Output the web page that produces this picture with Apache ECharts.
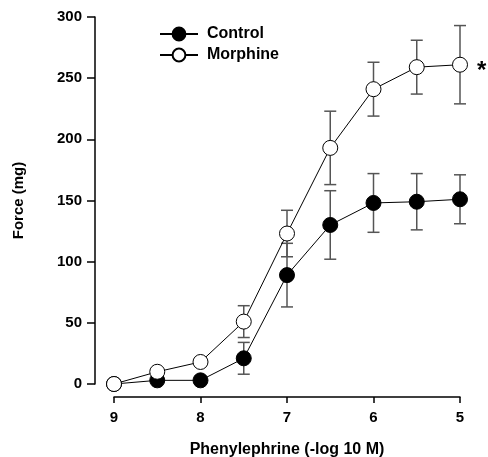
<!DOCTYPE html>
<html>
<head>
<meta charset="utf-8">
<script src="https://cdn.jsdelivr.net/npm/echarts@6/dist/echarts.min.js"></script>
<style>
html,body{margin:0;padding:0;background:#fff;}
#chart{width:488px;height:457px;}
</style>
</head>
<body>
<div id="chart"></div>
<script>
var doses = [9, 8.5, 8, 7.5, 7, 6.5, 6, 5.5, 5];
var controlMean = [0, 3, 3, 21, 89, 130, 148, 149, 151];
var controlErr  = [0, 0, 0, 13, 26, 28, 24, 23, 20];
var morphineMean = [0, 10, 18, 51, 123, 193, 241, 259, 261];
var morphineErr  = [0, 0, 0, 13, 19, 30, 22, 22, 32];
var xTicks = [9, 8, 7, 6, 5];
var yTicks = [0, 50, 100, 150, 200, 250, 300];

function pairs(m){ return doses.map(function(d,i){ return [d, m[i]]; }); }
function errData(m,e){ return doses.map(function(d,i){ return [d, m[i]-e[i], m[i]+e[i]]; }).filter(function(r){return r[2]>r[1];}); }

function errRender(params, api){
  var x = api.value(0), lo = api.value(1), hi = api.value(2);
  var pLo = api.coord([x, lo]), pHi = api.coord([x, hi]);
  var w = 6;
  var st = {stroke:'#555', lineWidth:1.5};
  return {type:'group', children:[
    {type:'line', shape:{x1:pLo[0], y1:pLo[1], x2:pHi[0], y2:pHi[1]}, style:st},
    {type:'line', shape:{x1:pLo[0]-w, y1:pLo[1], x2:pLo[0]+w, y2:pLo[1]}, style:st},
    {type:'line', shape:{x1:pHi[0]-w, y1:pHi[1], x2:pHi[0]+w, y2:pHi[1]}, style:st}
  ]};
}

var chart = echarts.init(document.getElementById('chart'), null, {renderer:'canvas'});
var font = 'Liberation Sans, Arial, sans-serif';
chart.setOption({
  animation:false,
  backgroundColor:'#fff',
  grid:{left:114, right:28, top:17, bottom:73, containLabel:false, outerBoundsMode:'none'},
  legend:{
    orient:'vertical', left:159, top:26, padding:0, itemWidth:38, itemHeight:16, itemGap:5,
    textStyle:{fontFamily:font, fontWeight:'bold', fontSize:16, color:'#000', padding:[0,0,0,4]},
    data:['Control','Morphine']
  },
  xAxis:{
    type:'value', min:5, max:9, interval:1, inverse:true, offset:13,
    axisLine:{onZero:false, lineStyle:{color:'#000', width:1.5}},
    axisTick:{length:6, lineStyle:{color:'#000', width:1.5}},
    splitLine:{show:false},
    axisLabel:{fontFamily:font, fontWeight:'bold', fontSize:15, color:'#000', margin:13,
      formatter:function(v){ return xTicks.indexOf(v)>=0 ? String(v) : ''; }},
    name:'Phenylephrine (-log 10 M)', nameLocation:'middle', nameGap:45,
    nameTextStyle:{fontFamily:font, fontWeight:'bold', fontSize:16, color:'#000'}
  },
  yAxis:{
    type:'value', min:0, max:300, interval:50, offset:19,
    axisLine:{show:true, onZero:false, lineStyle:{color:'#000', width:1.5}},
    axisTick:{show:true, length:8, lineStyle:{color:'#000', width:1.5}},
    splitLine:{show:false},
    axisLabel:{fontFamily:font, fontWeight:'bold', fontSize:15, color:'#000', margin:13,
      formatter:function(v){ return yTicks.indexOf(v)>=0 ? String(v) : ''; }},
    name:'Force (mg)', nameLocation:'middle', nameGap:69, nameRotate:90,
    nameTextStyle:{fontFamily:font, fontWeight:'bold', fontSize:15, color:'#000'}
  },
  series:[
    {type:'custom', name:'ctrlErr', renderItem:errRender, data:errData(controlMean, controlErr), z:1, silent:true},
    {type:'custom', name:'morphErr', renderItem:errRender, data:errData(morphineMean, morphineErr), z:1, silent:true},
    {type:'line', name:'Control', data:pairs(controlMean), symbol:'circle', symbolSize:15,
      lineStyle:{color:'#000', width:1}, itemStyle:{color:'#000', borderColor:'#000', borderWidth:1}, z:3},
    {type:'line', name:'Morphine', data:pairs(morphineMean), symbol:'circle', symbolSize:15,
      lineStyle:{color:'#000', width:1}, itemStyle:{color:'#fff', borderColor:'#000', borderWidth:1}, z:4}
  ],
  graphic:[
    {type:'text', left:477, top:59, style:{text:'*', font:'bold 24px Liberation Sans, Arial, sans-serif', fill:'#000'}}
  ]
});
</script>
</body>
</html>
